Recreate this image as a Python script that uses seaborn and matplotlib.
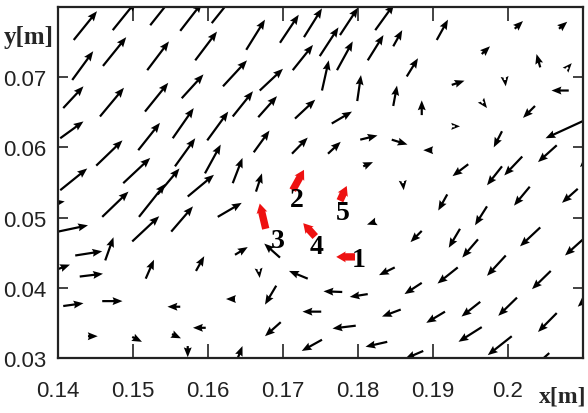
# Velocity field with tracked particles (quiver plot)
import numpy as np
import matplotlib
matplotlib.use("Agg")
import matplotlib.pyplot as plt
import seaborn as sns

# Vector field data, in mm (tail position x, y and vector u, v)
x_mm = [142.1, 147.3, 152.3, 156.3, 160.5, 141.9, 146.0, 151.9, 158.3, 165.1,
        169.6, 140.7, 145.6, 151.6, 156.5, 162.0, 166.9, 163.3, 166.7, 140.3,
        145.1, 150.7, 155.3, 159.9, 166.1, 140.3, 148.7, 157.3, 155.6, 159.6,
        163.3, 166.4, 153.3, 172.8, 174.9, 177.6, 182.3, 171.3, 177.2, 181.3,
        184.7, 175.2, 179.9, 184.7, 171.6, 176.5, 171.2, 176.0, 180.3, 184.5,
        180.7, 186.0, 190.5, 200.9, 206.8, 196.5, 204.3, 208.0, 186.5, 192.5,
        199.6, 208.1, 188.5, 196.7, 203.6, 192.9, 210.3, 189.9, 199.2, 206.5,
        201.9, 194.7, 211.5, 199.2, 145.9, 150.8, 140.0, 149.9, 155.1, 161.3,
        142.3, 146.3, 140.1, 142.9, 151.7, 158.4, 139.2, 140.7, 145.9, 156.3,
        163.6, 144.0, 149.9, 155.2, 159.7, 157.3, 163.5, 163.6, 166.8, 169.1,
        169.7, 169.6, 173.3, 177.9, 181.3, 175.1, 179.7, 175.2, 183.9, 184.9,
        185.7, 182.3, 191.9, 202.9, 209.3, 197.2, 188.5, 193.6, 196.0, 204.3,
        210.0, 199.7, 193.3, 188.5, 205.7, 211.6, 201.2, 196.3, 191.6, 206.5,
        196.5, 200.5, 188.7, 205.5]
y_mm = [75.3, 76.7, 77.4, 76.6, 77.7, 69.6, 71.6, 71.0, 72.4, 73.9,
        74.9, 65.6, 64.4, 65.1, 67.0, 68.7, 68.1, 64.4, 64.3, 61.3,
        57.4, 59.6, 61.3, 61.0, 59.3, 53.9, 54.9, 53.0, 57.3, 56.3,
        54.9, 53.7, 53.3, 75.7, 73.0, 76.0, 76.7, 71.0, 71.0, 72.4,
        74.4, 68.1, 66.6, 65.9, 64.1, 63.4, 59.1, 59.1, 61.1, 61.1,
        57.3, 54.9, 75.3, 76.9, 76.9, 73.3, 71.4, 71.4, 70.1, 68.9,
        69.6, 68.1, 64.6, 66.3, 65.9, 63.0, 63.9, 59.6, 62.3, 60.3,
        58.7, 57.6, 59.3, 57.3, 50.1, 50.1, 48.0, 46.6, 48.0, 50.1,
        44.6, 43.9, 42.7, 41.6, 41.3, 42.4, 52.0, 37.4, 38.1, 37.3,
        38.4, 33.1, 33.0, 33.4, 34.3, 31.7, 28.7, 44.7, 42.3, 40.3,
        35.1, 44.3, 41.3, 39.4, 39.1, 36.6, 34.6, 32.6, 32.3, 42.9,
        36.9, 49.4, 53.3, 54.4, 54.1, 51.6, 48.1, 48.4, 46.9, 48.6,
        46.9, 44.6, 42.9, 40.7, 42.4, 39.6, 38.6, 38.0, 36.6, 36.4,
        34.4, 33.1, 31.0, 30.7]
u_mm = [3.1, 3.1, 2.9, 2.9, 2.7, 2.8, 3.1, 2.9, 2.9, 2.5,
        2.5, 2.7, 3.2, 3.1, 2.9, 3.2, 3.1, 2.7, 2.5, 3.1,
        3.5, 2.9, 2.8, 2.8, 2.1, 3.6, 3.6, 3.5, 2.7, 2.1,
        1.3, 0.8, 2.9, 2.4, 2.5, 2.4, 2.5, 2.7, 2.1, 2.1,
        1.2, 0.9, 0.5, 0.5, 2.7, 2.7, 2.1, 1.7, 2.3, 2.1,
        1.3, 0.1, 1.5, 1.1, 1.1, 1.1, -0.5, 0.5, 1.5, 1.7,
        0.1, -2.3, 0.0, 0.5, -1.6, 0.7, -5.3, -1.2, -1.1, -2.5,
        -2.4, -2.1, -1.9, -2.0, 3.5, 3.5, 4.0, 3.6, 2.9, 3.2,
        3.6, 1.1, 1.5, 3.1, 1.1, 1.1, 1.7, 2.7, 2.7, -1.7,
        -1.2, 1.3, 1.3, 1.2, -1.7, 0.0, 1.1, 1.7, 0.1, -1.5,
        -2.1, -2.1, -2.5, -2.5, -2.4, -2.5, -3.1, -2.7, -2.9, -2.1,
        -2.5, -1.1, -1.2, -2.1, -2.1, -1.6, -1.5, -1.5, -2.1, -2.7,
        -2.4, -2.5, -2.7, -2.3, -2.5, -2.3, -2.5, -2.5, -2.5, -2.5,
        -3.1, -3.2, -2.4, -2.4]
v_mm = [4.1, 4.1, 3.9, 4.0, 3.6, 4.1, 4.1, 4.1, 4.1, 4.3,
        4.0, 3.1, 4.1, 4.1, 3.4, 3.7, 3.1, 3.6, 3.0, 2.4,
        3.6, 3.9, 4.3, 4.1, 3.1, 3.1, 3.6, 3.1, 4.0, 4.1,
        3.6, 2.6, 3.7, 4.1, 4.1, 3.9, 3.7, 3.6, 4.1, 3.6,
        2.3, 4.3, 3.7, 2.9, 2.7, 1.7, 2.3, 1.7, 0.6, -0.7,
        0.6, -1.0, 2.9, 1.1, 1.0, 1.1, 1.9, 0.6, 2.6, 0.6,
        -0.9, 0.0, 2.1, -0.7, -1.7, 0.0, -2.6, 0.0, -2.3, -2.4,
        -2.7, -1.7, -2.1, -2.7, 3.6, 4.7, 0.9, 3.6, 3.6, 2.0,
        0.6, 3.3, 0.6, 0.4, 2.7, 2.1, 0.3, 0.4, 0.0, 0.0,
        0.0, 0.0, -0.7, -0.6, 0.0, -1.6, 3.0, 1.1, -0.9, -2.7,
        -2.0, 2.0, 1.1, 0.1, -0.4, 0.0, -0.4, -1.6, -0.7, -1.1,
        -1.0, -0.4, -2.3, -2.7, -2.0, -2.7, -1.6, -2.7, -2.6, -2.7,
        -2.3, -2.9, -2.3, -1.6, -2.6, -2.3, -2.6, -2.1, -1.6, -2.7,
        -2.1, -2.7, -1.1, -2.3]

# Tracked particles (red), in mm
particle_labels = ["1", "2", "3", "4", "5"]
px_mm = [179.6, 171.3, 167.7, 174.3, 177.6]
py_mm = [44.4, 53.9, 48.4, 47.3, 52.4]
pu_mm = [-2.5, 1.5, -0.8, -1.6, 0.9]
pv_mm = [0.0, 2.9, 3.6, 1.9, 2.1]
label_x_mm = [180.1, 171.9, 169.3, 174.5, 178.0]
label_y_mm = [44.1, 52.6, 46.7, 45.9, 50.7]

# Axis ticks
x_ticks = [0.14, 0.15, 0.16, 0.17, 0.18, 0.19, 0.20, 0.21]
x_tick_labels = ["0.14", "0.15", "0.16", "0.17", "0.18", "0.19", "0.2", ""]
y_ticks = [0.03, 0.04, 0.05, 0.06, 0.07, 0.08]
y_tick_labels = ["0.03", "0.04", "0.05", "0.06", "0.07", ""]

sns.set_style("ticks")
plt.rcParams["font.family"] = ["Liberation Sans", "DejaVu Sans"]

fig = plt.figure(figsize=(5.88, 4.14), dpi=100)
ax = fig.add_axes([0.0986, 0.1329, 0.8929, 0.8478])

# convert mm -> m
x = np.array(x_mm) / 1000
y = np.array(y_mm) / 1000
u = np.array(u_mm) / 1000
v = np.array(v_mm) / 1000

ax.quiver(x, y, u, v, angles="xy", scale_units="xy", scale=1,
          color="black", width=0.0042, headwidth=3.6, headlength=4.5,
          headaxislength=4.0, minshaft=0.6, zorder=2)

# red particle markers
ax.quiver(np.array(px_mm) / 1000, np.array(py_mm) / 1000,
          np.array(pu_mm) / 1000, np.array(pv_mm) / 1000,
          angles="xy", scale_units="xy", scale=1, color="#ee1111",
          width=0.014, headwidth=1.5, headlength=1.3, headaxislength=1.2,
          zorder=3)

serif = ["Liberation Serif", "DejaVu Serif"]
for lab, lx, ly in zip(particle_labels, label_x_mm, label_y_mm):
    ax.text(lx / 1000, ly / 1000, lab, ha="center", va="center",
            fontsize=20, fontweight="bold", family=serif,
            color="black", zorder=4)

ax.set_xlim(0.14, 0.21)
ax.set_ylim(0.03, 0.08)
ax.set_xticks(x_ticks)
ax.set_xticklabels(x_tick_labels)
ax.set_yticks(y_ticks)
ax.set_yticklabels(y_tick_labels)

ax.tick_params(axis="x", direction="in", length=10, width=1.2, pad=16,
               labelsize=16, top=True, colors="#222222")
ax.tick_params(axis="y", direction="in", length=7, width=1.2, pad=8,
               labelsize=16, right=True, colors="#222222")
for s in ax.spines.values():
    s.set_linewidth(1.6)
    s.set_color("#222222")
    s.set_visible(True)

# axis names placed like the original
ax.text(0.962, -0.107, "x[m]", transform=ax.transAxes, ha="center", va="center",
        fontsize=17, fontweight="bold", family=serif)
ax.text(-0.055, 0.915, "y[m]", transform=ax.transAxes, ha="center", va="center",
        fontsize=18, fontweight="bold", family=serif)

plt.savefig("out.png", dpi=100)
